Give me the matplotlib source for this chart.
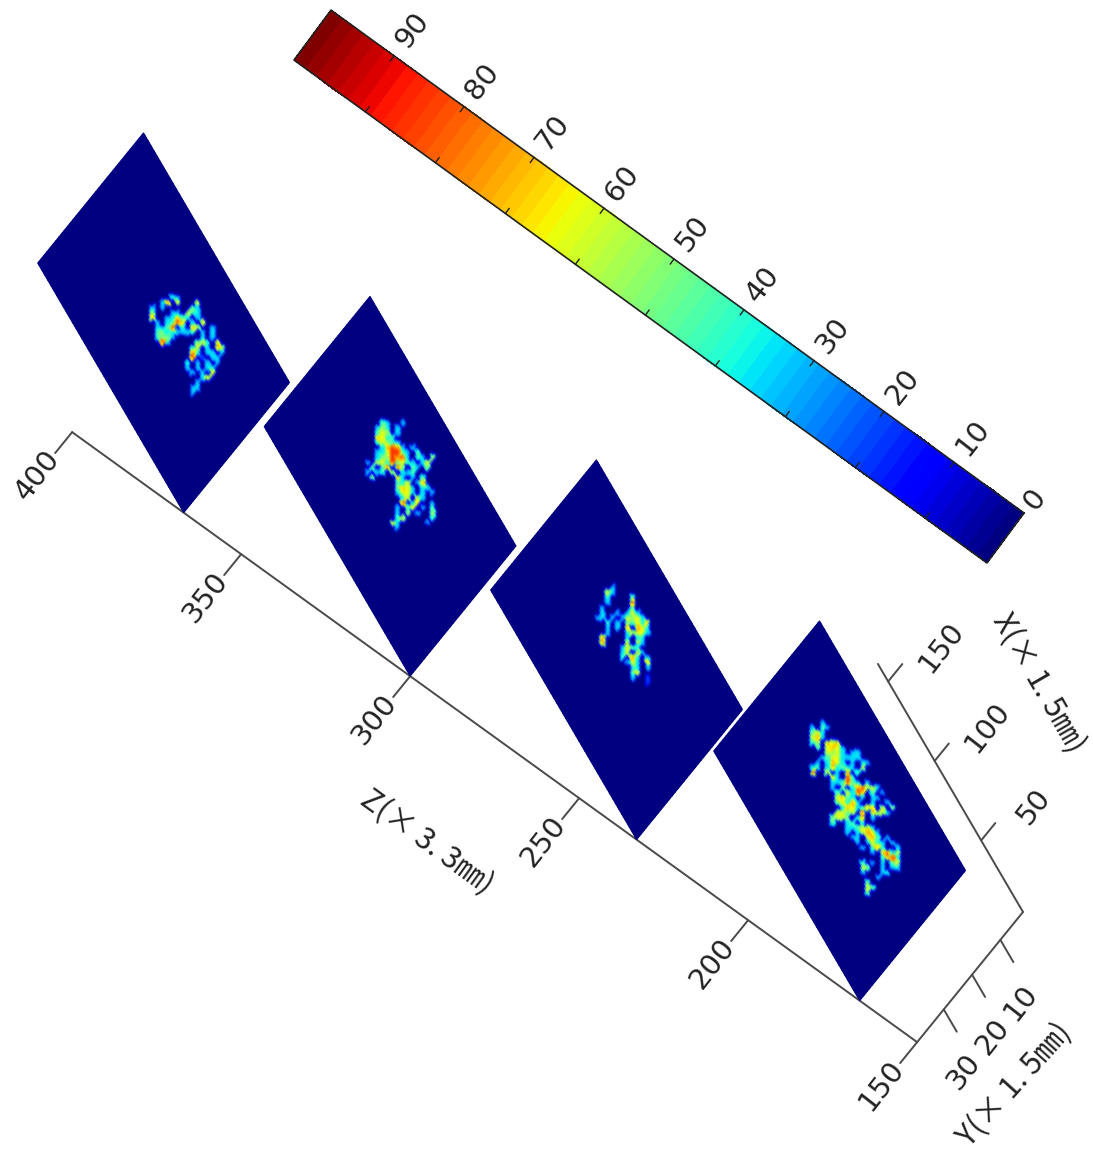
# plot.py
# four slices through a 3D volume, drawn with an oblique projection
import numpy as np
import matplotlib
matplotlib.use('Agg')
import matplotlib.pyplot as plt
from matplotlib.transforms import Affine2D

# axis ticks
z_ticks = [150, 200, 250, 300, 350, 400]
x_ticks = [50, 100, 150]
y_ticks = [10, 20, 30]
cbar_ticks = [0, 10, 20, 30, 40, 50, 60, 70, 80, 90]

# limits of the box
x_min, x_max, x_end = 5, 162, 161
y_min, y_max = 2, 39.4
z_min, z_max = 150, 400
v_max = 99

# z position of each slice
slice_z = [167, 233, 300, 367]

# activity read off each slice, one char per 5 px patch, viewed as on the page
# . = 0, digit n = about n*10
blob_167 = [
    "",
    "",
    "......3",
    "....3.43",
    "....563",
    "....673",
    "....45.767",
    ".....5.6763",
    ".......6563.33",
    "......34663333",
    ".....3.3763.3.33",
    "....34.373433.6",
    "....8..6.3.7.4",
    "........73.84",
    "........334843.3",
    "........3.5.378663",
    ".........4.6387.4.3",
    ".........6743.3.33",
    ".........56373..3..3",
    "..........3763477.6.6",
    ".........6646.8.7663",
    "........5665.47.3",
    "........4..34.3",
    "...........334663",
    "...........3.36763",
    "............33.674.3",
    ".............3.3633.3",
    "..............3.473..3",
    "................3.7836",
    "..................4783",
    "..............4.3.3.46",
    "..............65..3.33",
    "..............3...34",
    ".................3",
    "...............5",
    "...............65",
    "...............5",
]
blob_233 = [
    "",
    "",
    "",
    ".......3",
    "......63",
    "......3....5",
    "......3....8",
    ".....3.....4",
    ".....3..3.363",
    "....33.3.36563",
    "......4.3.54637",
    "......3.3.7.763",
    "......3...36663",
    ".....7....3.33",
    ".....7....6.63",
    ".........3653",
    ".........36.63",
    ".........4.73.3",
    "..........363.7",
    "...........33.3",
    "...........57",
    "...........3..2",
    "..............2",
]
blob_300 = [
    "",
    "",
    "",
    "",
    ".......43..3",
    "......353.3",
    "......465.3",
    "......7634",
    "......46533",
    ".......37873.3",
    "......3368843.4",
    "......3558783.43.6",
    "....3.66384643.36",
    ".....5.48.85.43.5",
    "....3.34.6.334",
    ".....6....73.3.4",
    "..........436.37",
    "..........5763.33",
    "..........3663.3.3",
    "...........36.63",
    "...........8.37..3",
    "..........3.47.3.4",
    "..........3.6.3..5",
    "..........46.....4",
    ".........73.....3",
    "..........3",
]
blob_367 = [
    "",
    "",
    "",
    "",
    "",
    "..........43",
    "........38.7...7",
    "......3.3.....53",
    "......5...33.643",
    "......7..33743.3",
    ".......3.3487.3.7",
    ".......3348.3.76..3",
    ".......45333334.3.3",
    ".......4453.....3.3",
    "........83.....564.7",
    "..............46.3.76",
    "..............73.33.3",
    "..............8.2.33",
    ".............4.3.3.3",
    ".............3.3.33",
    "..............3.3.7",
    "................37",
    "...............3",
    "..............33",
    "..............3",
]
blob_origin = [(790, 710), (575, 570), (345, 400), (120, 270)]
blobs = [blob_167, blob_233, blob_300, blob_367]
blob_cell = 5

# text of the axes
x_label = 'X(× 1. 5㎜)'
y_label = 'Y(× 1. 5㎜)'
z_label = 'Z(× 3. 3㎜)'

# projection of data units on the page, in pixels
corner = np.array([1023.0, 912.0])
ex = np.array([-0.93, -1.59])
ey = np.array([-2.83, 3.48])
ez = np.array([-3.38, -2.44])
# colorbar direction on the page
bar_zero = np.array([1024.0, 513.0])
bar_along = np.array([-7.0, -5.08])
bar_across = np.array([-37.0, 50.0])

LINE = '#4a4a4a'
tick_font = dict(family='DejaVu Sans', fontsize=21, color='#222222',
                 ha='center', va='center', rotation=52, rotation_mode='anchor')
label_font = dict(family=['Noto Sans CJK SC', 'DejaVu Sans'], fontsize=22,
                  color='#222222', ha='center', va='center', rotation_mode='anchor')


def project(x, y, z):
    return corner + (x - x_min) * ex + (y - y_min) * ey + (z - z_min) * ez


def read_blob(rows, origin, px, py):
    # look up the value of the hand read patches at page positions px, py
    values = {'.': 0, '2': 20, '3': 35, '4': 45, '5': 52, '6': 62, '7': 72, '8': 85}
    col = ((px - origin[0]) / blob_cell).astype(int)
    row = ((py - origin[1]) / blob_cell).astype(int)
    out = np.zeros(px.shape)
    for i, j in np.ndindex(px.shape):
        if 0 <= row[i, j] < len(rows) and 0 <= col[i, j] < len(rows[row[i, j]]):
            out[i, j] = values[rows[row[i, j]][col[i, j]]]
    return out


def soften(V):
    # the source picture is soft, so smooth the patches a little
    kernel = np.array([0.12, 0.76, 0.12])
    V = np.apply_along_axis(lambda s: np.convolve(s, kernel, mode='same'), 0, V)
    V = np.apply_along_axis(lambda s: np.convolve(s, kernel, mode='same'), 1, V)
    return V


def draw_slice(ax, z, rows, origin, cmap):
    xs = np.linspace(x_min, x_max, 100)
    ys = np.linspace(y_min, y_max, 70)
    X, Y = np.meshgrid(xs, ys, indexing='ij')
    p0 = corner - x_min * ex - y_min * ey + (z - z_min) * ez
    px = p0[0] + X * ex[0] + Y * ey[0]
    py = p0[1] + X * ex[1] + Y * ey[1]
    V = soften(read_blob(rows, origin, px, py))
    m = Affine2D(np.array([[ex[0], ey[0], p0[0]],
                           [ex[1], ey[1], p0[1]],
                           [0, 0, 1]]))
    ax.pcolormesh(X, Y, V, cmap=cmap, vmin=0, vmax=v_max, shading='gouraud',
                  transform=m + ax.transData, zorder=3)


def draw_box(ax):
    lines = [(project(x_min, y_max, z_min), project(x_min, y_max, z_max)),
             (project(x_min, y_max, z_min), project(x_min, y_min, z_min)),
             (project(x_min, y_min, z_min), project(x_end, y_min, z_min))]
    for t in z_ticks:
        lines.append((project(x_min, y_max, t), project(x_min, y_max + 6, t)))
        pos = project(x_min, y_max + 12.5, t)
        ax.text(pos[0], pos[1], str(t), **tick_font)
    for t in x_ticks:
        lines.append((project(t, y_min, z_min), project(t, y_min - 5, z_min)))
        pos = project(t - 11.5, y_min - 15, z_min)
        ax.text(pos[0], pos[1], str(t), **tick_font)
    for t in y_ticks:
        lines.append((project(x_min, t, z_min), project(x_min - 14, t, z_min)))
        pos = project(x_min - 32, t + 3.3, z_min)
        ax.text(pos[0], pos[1], str(t), **tick_font)
    for a, b in lines:
        ax.plot([a[0], b[0]], [a[1], b[1]], color=LINE, lw=1.4, zorder=2,
                solid_capstyle='round')


def draw_colorbar(ax, cmap):
    vals = np.linspace(0, v_max, 65)
    across = np.array([0, 1])
    C = np.array([(vals[:-1] + vals[1:]) / 2])
    m = Affine2D(np.array([[bar_along[0], bar_across[0], bar_zero[0]],
                           [bar_along[1], bar_across[1], bar_zero[1]],
                           [0, 0, 1]]))
    ax.pcolormesh(vals, across, C, cmap=cmap, vmin=0, vmax=v_max,
                  transform=m + ax.transData, zorder=3)
    corners = [(0, 0), (v_max, 0), (v_max, 1), (0, 1), (0, 0)]
    ax.plot([c[0] for c in corners], [c[1] for c in corners], color='#222222', lw=1.2,
            transform=m + ax.transData, zorder=4)
    for t in cbar_ticks:
        # the lower ticks sit slightly back along the bar
        ax.plot([t, t], [0, 0.1], color='#222222', lw=1.0,
                transform=m + ax.transData, zorder=4)
        if t > 0:
            ax.plot([t - 1.2, t - 1.2], [0.9, 1], color='#222222', lw=1.0,
                    transform=m + ax.transData, zorder=4)
        # single digit label sits closer to the bar
        w = -0.27 if t == 0 else -0.5
        ax.text(t, w, str(t), transform=m + ax.transData, **tick_font)


def main():
    fig = plt.figure(figsize=(10.93, 11.63), dpi=100)
    ax = fig.add_axes([0, 0, 1, 1])
    ax.set_xlim(0, 1093)
    ax.set_ylim(1163, 0)
    ax.axis('off')
    cmap = plt.get_cmap('jet', 64)
    cmap_smooth = plt.get_cmap('jet', 256)

    draw_box(ax)
    for z, rows, origin in zip(slice_z, blobs, blob_origin):
        draw_slice(ax, z, rows, origin, cmap_smooth)
    draw_colorbar(ax, cmap)

    ax.text(427, 842, z_label, rotation=-36, **label_font)
    ax.text(1038, 683, x_label, rotation=-60, **label_font)
    ax.text(1015, 1085, y_label, rotation=48, **label_font)

    fig.savefig('out.png', dpi=100, facecolor='white')


if __name__ == '__main__':
    main()
